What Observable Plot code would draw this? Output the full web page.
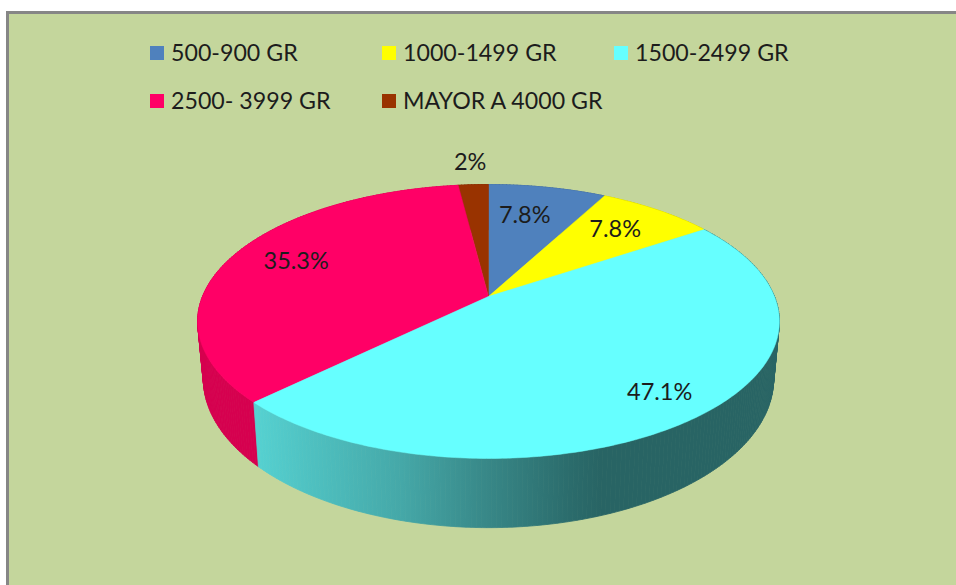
<!DOCTYPE html>
<html>
<head>
<meta charset="utf-8">
<style>html,body{margin:0;padding:0;background:#fff}svg{display:block}</style>
<script src="https://cdn.jsdelivr.net/npm/d3@7"></script>
<script src="https://cdn.jsdelivr.net/npm/@observablehq/plot@0.6"></script>
</head>
<body>
<div id="chart"></div>
<script>
// Data
const categories = ["500-900 GR", "1000-1499 GR", "1500-2499 GR", "2500- 3999 GR", "MAYOR A 4000 GR"];
const percents = [7.8, 7.8, 47.1, 35.3, 2];
const percentLabels = ["7.8%", "7.8%", "47.1%", "35.3%", "2%"];
const topColors = ["#4f81bd", "#ffff00", "#66ffff", "#ff0066", "#993300"];
const sideColors = ["#3f6797", "#cccc00", "url(#cyanSide)", "#d6004f", "#7a2900"];
const drawOrder = [0, 1, 4, 3, 2];

// Layout
const W = 956, H = 585, font = "Lato, Carlito, sans-serif", fontSize = 23.5, legendFontSize = 23.2, ink = "#1c1c1c";
const panelFill = "#c4d69c", panelEdge = "#868686";
const cx = 488, topApexY = 296, R = 286, S = 132.4, k = 0.1825;
const baseApexY = 351, baseR = 280.4, baseS = 144;
const labelRadius = [0.7, 0.7, 0.85, 0.7, 1.25];
const labelNudgeX = [-7, 4, -3, -11, 0];
const labelNudgeY = [-1, -4, -3, -6, 1];
const legendCols = [150, 382, 614], legendRows = [53, 101], swatch = 14, legendGap = 20.5;
const cyanStops = [[0, "#56d2d2"], [0.1, "#4fc2c2"], [0.28, "#45a8a8"], [0.44, "#388888"], [0.6, "#2b6c6c"], [0.66, "#286464"], [1, "#286464"]];

function project(a, f = 1, base = false) {
  const X = f * Math.sin(a), Y = -f * Math.cos(a), d = 1 - k * Y;
  return base
    ? {x: cx + baseR * X / d, y: baseApexY + baseS * Y / d}
    : {x: cx + R * X / d, y: topApexY + S * Y / d};
}
const arcs = d3.pie().sort(null)(percents);
function arcAngles(s) {
  const n = Math.max(2, Math.ceil((s.endAngle - s.startAngle) / 0.015));
  return d3.range(n + 1).map(i => s.startAngle + (s.endAngle - s.startAngle) * i / n);
}
const topFace = s => [{x: cx, y: topApexY}, ...arcAngles(s).map(a => project(a)), {x: cx, y: topApexY}];
// The side wall is a strip of separate closed quads, so that its folded parts do not cancel out.
const sideFace = s => {
  const as = arcAngles(s);
  return d3.pairs(as).flatMap(([a, b], q) => [project(a), project(b), project(b, 1, true), project(a, 1, true), project(a)].map(p => ({...p, q})));
};

const defs = () => {
  const d = d3.create("svg:defs");
  const g = d.append("linearGradient").attr("id", "cyanSide").attr("gradientUnits", "userSpaceOnUse")
    .attr("x1", 253).attr("x2", 780).attr("y1", 0).attr("y2", 0);
  cyanStops.forEach(([o, c]) => g.append("stop").attr("offset", o).attr("stop-color", c));
  return d.node();
};

const legend = categories.map((name, i) => {
  const x = legendCols[i % 3], y = legendRows[Math.floor(i / 3)];
  return {name, color: topColors[i], x, y, x1: x, x2: x + swatch, y1: y - swatch / 2, y2: y + swatch / 2, tx: x + legendGap};
});
const labels = arcs.map((s, i) => {
  const p = project((s.startAngle + s.endAngle) / 2, labelRadius[i]);
  return {text: percentLabels[i], x: p.x + labelNudgeX[i], y: p.y + labelNudgeY[i]};
});

const chart = Plot.plot({
  width: W, height: H, margin: 0,
  x: {domain: [0, W], range: [0, W], axis: null},
  y: {domain: [0, H], range: [0, H], axis: null},
  style: {background: "#fff", fontFamily: font},
  marks: [
    defs,
    Plot.rect([{x1: 7, x2: W, y1: 12, y2: H}], {x1: "x1", x2: "x2", y1: "y1", y2: "y2", fill: panelFill}),
    Plot.ruleX([7], {y1: 11, y2: H, stroke: panelEdge, strokeWidth: 3}),
    Plot.ruleY([12], {x1: 6, x2: W, stroke: panelEdge, strokeWidth: 3}),
    ...drawOrder.map(i => Plot.line(sideFace(arcs[i]), {x: "x", y: "y", z: "q", fill: sideColors[i], stroke: sideColors[i], strokeWidth: 0.8, curve: "linear"})),
    ...drawOrder.map(i => Plot.line(topFace(arcs[i]), {x: "x", y: "y", fill: topColors[i], stroke: topColors[i], strokeWidth: 0.5, curve: "linear"})),
    Plot.rect(legend, {x1: "x1", x2: "x2", y1: "y1", y2: "y2", fill: "color"}),
    Plot.text(legend, {x: "tx", y: "y", text: "name", textAnchor: "start", lineAnchor: "middle", fontSize: legendFontSize, fill: ink, fontFamily: font}),
    Plot.text(labels, {x: "x", y: "y", text: "text", textAnchor: "middle", lineAnchor: "middle", fontSize, fill: ink, fontFamily: font})
  ]
});
document.getElementById("chart").append(chart);
</script>
</body>
</html>
